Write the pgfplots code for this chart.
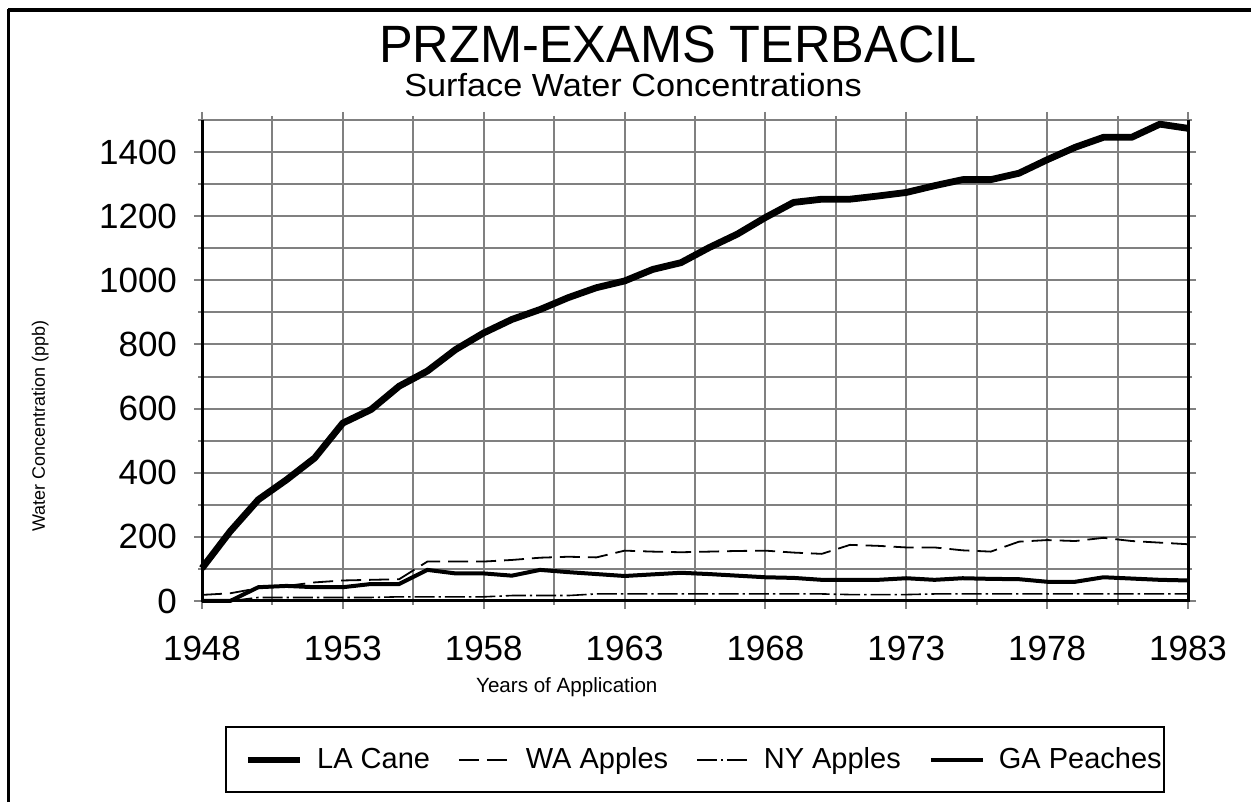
\documentclass[border=0pt]{standalone}
\usepackage{pgfplots}
\pgfplotsset{compat=1.18}
\usepackage{pgfplotstable}
\usepackage{fontspec}
\setmainfont{Liberation Sans}
\pgfplotstableread{
year LA WA NY GA
1948 102 19 0 0
1949 217 24 0 0
1950 316 40 11 43
1951 378 47 11 47
1952 446 58 11 43
1953 555 64 11 43
1954 597 66 11 53
1955 670 68 13 53
1956 717 123 13 97
1957 784 123 13 86
1958 836 123 13 86
1959 878 128 17 79
1960 909 135 17 97
1961 946 138 17 90
1962 977 136 22 84
1963 998 157 22 78
1964 1034 154 22 83
1965 1055 152 22 88
1966 1102 154 22 84
1967 1144 156 22 79
1968 1196 157 22 74
1969 1243 151 22 72
1970 1253 147 22 66
1971 1253 175 20 66
1972 1263 172 20 66
1973 1274 167 20 71
1974 1295 167 22 66
1975 1314 158 22 71
1976 1314 154 22 69
1977 1334 185 22 68
1978 1376 190 22 60
1979 1415 187 22 60
1980 1446 197 22 74
1981 1446 187 22 70
1982 1487 182 22 66
1983 1474 177 22 64
}\data
\begin{document}
\begin{tikzpicture}
\begin{scope}[x=0.5pt,y=0.5pt]
\useasboundingbox (0,0) rectangle (1251,802);
\draw[line width=2pt] (8,792) -- (1251,792);
\draw[line width=1.5pt] (8,0) -- (8,793);
\node[anchor=base, inner sep=0pt, font=\fontsize{25pt}{25pt}\selectfont] at (678,739) {\scalebox{1.01}[1.05]{PRZM-EXAMS TERBACIL}};
\node[anchor=base, inner sep=0pt, font=\fontsize{16pt}{16pt}\selectfont] at (633,705) {\scalebox{1.07}[1]{Surface Water Concentrations}};
\draw[line width=1pt] (226,10) rectangle (1164,75);
\end{scope}
\begin{axis}[
  at={(101pt,100.5pt)}, anchor=south west,
  scale only axis, width=493pt, height=240.5pt,
  xmin=1948, xmax=1983, ymin=0, ymax=1500,
  clip=false,
  xtick={1948,1953,...,1983},
  minor xtick={1950.5,1955.5,...,1980.5},
  ytick={0,200,...,1400},
  minor ytick={100,300,...,1500},
  grid=both,
  major grid style={draw=gray, line width=1pt},
  minor grid style={draw=gray, line width=1pt},
  axis line style={draw=none},
  tick align=outside,
  major tick length=4pt, minor tick length=2pt,
  tick style={draw=gray, line width=1pt},
  /pgf/number format/assume math mode=true,
  /pgf/number format/1000 sep={},
  ticklabel style={font=\fontsize{17.5pt}{17.5pt}\selectfont},
  xticklabel style={yshift=-10pt},
  yticklabel style={xshift=-5pt},
  xlabel={Years of Application},
  xlabel style={at={(axis description cs:0.370,-0.1788)}, anchor=center, font=\fontsize{10.3pt}{10.3pt}\selectfont},
  ylabel={Water Concentration (ppb)},
  ylabel style={at={(axis description cs:-0.164,0.364)}, anchor=center, font=\fontsize{9pt}{9pt}\selectfont},
  legend columns=4,
  legend style={at={(axis description cs:0.0426,-0.3306)}, anchor=west, draw=none, fill=none,
    inner sep=0pt, font=\fontsize{14.5pt}{14.5pt}\selectfont,
    nodes={text height=11pt, text depth=3pt},
    /tikz/every odd column/.append style={column sep=5pt},
    /tikz/every even column/.append style={column sep=12pt}},
  legend image code/.code={\draw[#1] (0pt,0pt) -- (26pt,0pt);},
]
\draw[black, line width=1.5pt] (axis cs:1948,1500) -- (axis cs:1948,0) -- (axis cs:1983,0) -- (axis cs:1983,1500);
\addplot[black, line width=3.4pt, line join=round] table[x=year, y=LA] {\data};
\addlegendentry{LA Cane}
\addplot[black, line width=0.9pt, dash pattern=on 10pt off 4pt] table[x=year, y=WA] {\data};
\addlegendentry{WA Apples}
\addplot[black, line width=0.8pt, dash pattern=on 10pt off 2pt on 1.2pt off 2pt] table[x=year, y=NY] {\data};
\addlegendentry{NY Apples}
\addplot[black, line width=2pt] table[x=year, y=GA] {\data};
\addlegendentry{GA Peaches}
\end{axis}
\end{tikzpicture}
\end{document}
